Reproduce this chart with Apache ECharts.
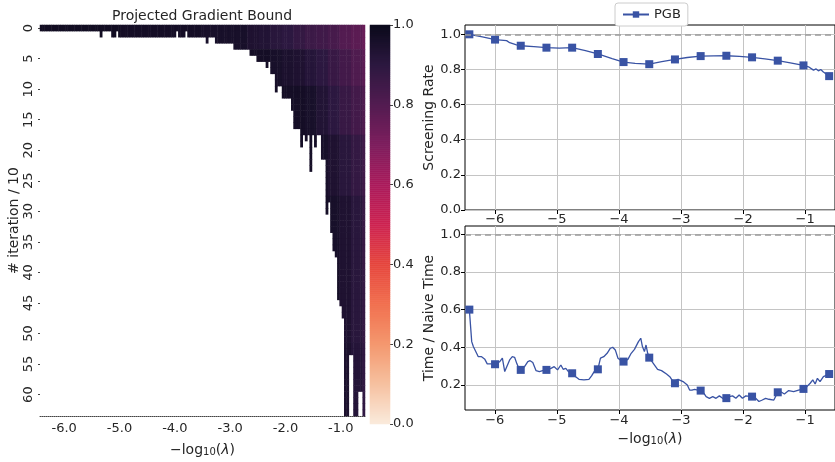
<!DOCTYPE html>
<html>
<head>
<meta charset="utf-8">
<script src="https://cdn.jsdelivr.net/npm/echarts@6/dist/echarts.min.js"></script>
<style>html,body{margin:0;padding:0;background:#fff}#c{width:835px;height:462px}</style>
</head>
<body>
<div id="c"></div>
<script>
// ---------- heatmap data ----------
// number of iteration rows (of 64) that are filled for each of the 141 lambda columns
const depth = [
 1,1,1,1,1,1,1,1,1,1, 1,1,1,1,1,1,1,1,1,1, 1,1,1,1,1,1,2,1,1,1,
 1,2,2,1,2,2,2,2,2,2, 2,2,2,2,2,2,2,2,2,2, 2,2,2,2,2,2,2,2,2,1,
 2,2,2,1,2,2,2,2,2,2, 2,2,3,2,2,2,3,3,3,3, 3,3,3,3,4,4,4,4,4,4,
 4,5,5,5,6,6,6,6,7,6, 8,8,11,10,10,12,12,12,12,14, 17,17,17,20,18,19,18,24,18,20,
 18,18,22,22,31,29,34,37,38,45, 46,48,64,64,54,54,64,64,60,60, 64
];
const nRows = 64;
const xTickCols = [10, 34, 58, 82, 106, 130];
const xTickLabels = ['-6.0', '-5.0', '-4.0', '-3.0', '-2.0', '-1.0'];
// first row of each row band
const rowBandStart = [0, 4, 10, 18, 28, 40, 52];
// cell values per band, one per group of 5 columns (29 groups)
const shadeBand0 = [0.98,0.98,0.98,0.98,0.98,0.98,0.98,0.97,0.97,0.97,0.97,0.97,0.97,0.97,0.96,0.96,0.96,0.96,0.94,0.93,0.91,0.90,0.88,0.86,0.85,0.83,0.80,0.78,0.75];
const shadeBand1 = [0.97,0.97,0.97,0.97,0.97,0.97,0.97,0.97,0.97,0.97,0.97,0.97,0.97,0.97,0.97,0.97,0.97,0.97,0.97,0.97,0.96,0.95,0.94,0.92,0.90,0.87,0.84,0.81,0.78];
const shadeBand2 = [0.97,0.97,0.97,0.97,0.97,0.97,0.97,0.97,0.97,0.97,0.97,0.97,0.97,0.97,0.97,0.97,0.97,0.97,0.97,0.97,0.97,0.97,0.97,0.96,0.93,0.90,0.87,0.84,0.81];
const shadeBand3 = [0.97,0.97,0.97,0.97,0.97,0.97,0.97,0.97,0.97,0.97,0.97,0.97,0.97,0.97,0.97,0.97,0.97,0.97,0.97,0.97,0.97,0.97,0.97,0.97,0.96,0.94,0.91,0.88,0.85];
const shadeBand4 = [0.97,0.97,0.97,0.97,0.97,0.97,0.97,0.97,0.97,0.97,0.97,0.97,0.97,0.97,0.97,0.97,0.97,0.97,0.97,0.97,0.97,0.97,0.97,0.97,0.97,0.96,0.94,0.91,0.87];
const shadeBand5 = [0.97,0.97,0.97,0.97,0.97,0.97,0.97,0.97,0.97,0.97,0.97,0.97,0.97,0.97,0.97,0.97,0.97,0.97,0.97,0.97,0.97,0.97,0.97,0.97,0.97,0.97,0.94,0.91,0.88];
const shadeBand6 = [0.97,0.97,0.97,0.97,0.97,0.97,0.97,0.97,0.97,0.97,0.97,0.97,0.97,0.97,0.97,0.97,0.97,0.97,0.97,0.97,0.97,0.97,0.97,0.97,0.97,0.97,0.95,0.92,0.89];
const rocketR = ['#faebdd','#f6c1a0','#f4986f','#f1704f','#e6463d','#cd2250','#aa1a5b','#7d1d5d','#531c51','#2c1840','#0b0a1b'];

// ---------- line data ----------
const markerX = [-6.41,-5.996,-5.582,-5.168,-4.754,-4.34,-3.926,-3.512,-3.098,-2.684,-2.27,-1.856,-1.442,-1.028,-0.614];
const srX = [-6.41,-6.2,-5.996,-5.81,-5.76,-5.65,-5.582,-5.37,-5.168,-4.96,-4.754,-4.54,-4.34,-4.11,-3.926,-3.74,-3.512,-3.31,-3.098,-2.9,-2.684,-2.47,-2.27,-2.06,-1.856,-1.65,-1.442,-1.24,-1.028,-0.947,-0.867,-0.824,-0.787,-0.75,-0.707,-0.614];
const srY = [1.000,0.985,0.970,0.964,0.952,0.940,0.935,0.930,0.924,0.921,0.924,0.907,0.888,0.862,0.842,0.834,0.830,0.845,0.857,0.868,0.876,0.877,0.878,0.874,0.869,0.860,0.850,0.838,0.823,0.815,0.796,0.803,0.792,0.800,0.785,0.762];
const ttX = [-6.41,-6.372,-6.346,-6.293,-6.266,-6.213,-6.16,-6.122,-6.053,-5.996,-5.92,-5.878,-5.84,-5.814,-5.761,-5.718,-5.681,-5.644,-5.601,-5.582,-5.521,-5.468,-5.431,-5.388,-5.335,-5.282,-5.229,-5.168,-5.096,-5.043,-4.989,-4.936,-4.899,-4.856,-4.814,-4.754,-4.697,-4.644,-4.564,-4.484,-4.441,-4.399,-4.34,-4.298,-4.245,-4.191,-4.138,-4.101,-4.059,-4.016,-3.979,-3.926,-3.856,-3.803,-3.75,-3.686,-3.649,-3.622,-3.59,-3.564,-3.537,-3.512,-3.447,-3.378,-3.314,-3.234,-3.181,-3.128,-3.098,-3.048,-2.968,-2.899,-2.862,-2.824,-2.782,-2.729,-2.684,-2.633,-2.596,-2.543,-2.489,-2.436,-2.383,-2.33,-2.27,-2.223,-2.17,-2.117,-2.064,-2.011,-1.957,-1.856,-1.798,-1.745,-1.691,-1.638,-1.585,-1.505,-1.442,-1.399,-1.335,-1.266,-1.186,-1.106,-1.028,-0.973,-0.92,-0.878,-0.84,-0.803,-0.761,-0.707,-0.614];
const ttY = [0.600,0.430,0.404,0.368,0.350,0.350,0.336,0.312,0.312,0.310,0.324,0.342,0.271,0.280,0.333,0.350,0.347,0.312,0.280,0.280,0.297,0.324,0.329,0.319,0.276,0.271,0.276,0.280,0.288,0.297,0.280,0.306,0.283,0.288,0.271,0.262,0.244,0.230,0.227,0.230,0.248,0.271,0.283,0.342,0.350,0.368,0.395,0.400,0.386,0.342,0.333,0.324,0.336,0.368,0.389,0.430,0.448,0.404,0.377,0.412,0.368,0.345,0.315,0.283,0.276,0.258,0.244,0.218,0.209,0.230,0.218,0.200,0.173,0.173,0.177,0.173,0.170,0.156,0.138,0.129,0.138,0.129,0.142,0.129,0.130,0.138,0.142,0.129,0.147,0.129,0.142,0.138,0.129,0.112,0.120,0.129,0.124,0.120,0.161,0.165,0.152,0.170,0.165,0.173,0.179,0.191,0.209,0.227,0.205,0.235,0.218,0.244,0.258];

// ---------- build ----------
const FONT = 'DejaVu Sans';
const TXT = '#262626';
const BLUE = '#3953a4';
const bands = [shadeBand0, shadeBand1, shadeBand2, shadeBand3, shadeBand4, shadeBand5, shadeBand6];
const xCats = depth.map((d, i) => String(i));
const yCats = Array.from({length: nRows}, (_, i) => String(i));
const heat = [];
depth.forEach((d, c) => {
  for (let r = 0; r < d; r++) {
    let b = 0;
    for (let k = 0; k < rowBandStart.length; k++) if (r >= rowBandStart[k]) b = k;
    heat.push([c, r, bands[b][Math.floor(c / 5)]]);
  }
});
const nBar = 200;
const barCats = Array.from({length: nBar}, (_, i) => String(i));
const barData = barCats.map((_, i) => [0, i, (i + 0.5) / nBar]);

function lineData(xs, ys) {
  return xs.map((x, i) => markerX.indexOf(x) >= 0 ? {value: [x, ys[i]]} : {value: [x, ys[i]], symbol: 'none'});
}
const minus = v => String(v).replace('-', '\u2212');
const xName = {
  name: '{m|\u2212log}{s|10}{m|(}{i|\u03bb}{m|)}',
  nameTextStyle: {rich: {
    m: {fontSize: 14, fontFamily: FONT, color: TXT, verticalAlign: 'bottom'},
    s: {fontSize: 10, fontFamily: FONT, color: TXT, verticalAlign: 'bottom'},
    i: {fontSize: 14, fontFamily: FONT, color: TXT, fontStyle: 'italic', verticalAlign: 'bottom'}
  }}
};
const gridLine = {show: true, lineStyle: {color: '#c4c4c4', width: 1}};
const oneLine = {
  silent: true, symbol: ['none', 'none'], label: {show: false},
  lineStyle: {color: '#9a9a9a', type: [6, 4], width: 1.5},
  data: [{yAxis: 1.0}]
};

const option = {
  animation: false,
  textStyle: {fontFamily: FONT},
  title: {text: 'Projected Gradient Bound', left: 202, top: 9, textAlign: 'center', padding: 0,
    textStyle: {fontSize: 14, fontWeight: 'normal', color: TXT, fontFamily: FONT}},
  legend: {
    data: ['PGB'], left: 615, top: 3, padding: [5, 7, 5, 7], itemWidth: 26, itemHeight: 8,
    borderColor: '#cccccc', borderWidth: 1, borderRadius: 3, backgroundColor: '#fff',
    textStyle: {fontSize: 13, color: TXT, fontFamily: FONT}
  },
  visualMap: {type: 'continuous', min: 0, max: 1, show: false, seriesIndex: [0, 1], inRange: {color: rocketR}},
  grid: [
    {left: 40, top: 25, width: 325, height: 400},
    {left: 370, top: 25, width: 20, height: 399},
    {left: 465, top: 25, width: 372, height: 185, show: true, borderColor: '#000', borderWidth: 1},
    {left: 465, top: 226, width: 372, height: 184, show: true, borderColor: '#000', borderWidth: 1, backgroundColor: '#fff'}
  ],
  xAxis: [
    {type: 'category', gridIndex: 0, data: xCats,
      axisLine: {show: true, lineStyle: {color: '#444', type: [1, 1], width: 1}},
      axisTick: {show: false},
      axisLabel: {interval: (i) => xTickCols.indexOf(i) >= 0, formatter: (v, i) => xTickLabels[xTickCols.indexOf(Number(v))],
        fontSize: 13, color: TXT, margin: 6, fontFamily: FONT},
      name: xName.name, nameLocation: 'middle', nameGap: 27, nameTextStyle: xName.nameTextStyle},
    {type: 'category', gridIndex: 1, data: ['c'], show: false},
    {type: 'value', gridIndex: 2, min: -6.48, max: -0.52,
      axisLine: {show: false}, splitLine: gridLine,
      axisTick: {show: true, length: 4, lineStyle: {color: '#000'}, customValues: [-6, -5, -4, -3, -2, -1]},
      axisLabel: {customValues: [-6, -5, -4, -3, -2, -1], formatter: minus, fontSize: 13, color: TXT, margin: 3, fontFamily: FONT}},
    {type: 'value', gridIndex: 3, min: -6.48, max: -0.52,
      axisLine: {show: false}, splitLine: gridLine,
      axisTick: {show: true, length: 4, lineStyle: {color: '#000'}, customValues: [-6, -5, -4, -3, -2, -1]},
      axisLabel: {customValues: [-6, -5, -4, -3, -2, -1], formatter: minus, fontSize: 13, color: TXT, margin: 4, fontFamily: FONT},
      name: xName.name, nameLocation: 'middle', nameGap: 22, nameTextStyle: xName.nameTextStyle}
  ],
  yAxis: [
    {type: 'category', gridIndex: 0, data: yCats, inverse: true,
      axisLine: {show: false},
      axisTick: {show: true, interval: 4, alignWithLabel: true, length: 2, lineStyle: {color: '#444'}},
      axisLabel: {interval: 4, rotate: 90, fontSize: 13, color: TXT, margin: 5, fontFamily: FONT},
      name: '# iteration / 10', nameLocation: 'middle', nameGap: 18,
      nameTextStyle: {fontSize: 14, color: TXT, fontFamily: FONT}},
    {type: 'category', gridIndex: 1, data: barCats, show: false},
    {type: 'value', gridIndex: 1, position: 'right', min: 0, max: 1, interval: 0.2,
      axisLine: {show: false}, splitLine: {show: false},
      axisTick: {show: true, length: 3, lineStyle: {color: '#444'}},
      axisLabel: {formatter: v => v.toFixed(1), fontSize: 13, color: TXT, margin: 3, fontFamily: FONT}},
    {type: 'value', gridIndex: 2, min: 0, max: 1.053,
      axisLine: {show: false}, splitLine: gridLine,
      axisTick: {show: true, length: 4, lineStyle: {color: '#000'}, customValues: [0, 0.2, 0.4, 0.6, 0.8, 1.0]},
      axisLabel: {customValues: [0, 0.2, 0.4, 0.6, 0.8, 1.0], formatter: v => v.toFixed(1), fontSize: 13, color: TXT, margin: 4, fontFamily: FONT},
      name: 'Screening Rate', nameLocation: 'middle', nameGap: 25,
      nameTextStyle: {fontSize: 14, color: TXT, fontFamily: FONT}},
    {type: 'value', gridIndex: 3, min: 0.067, max: 1.044,
      axisLine: {show: false}, splitLine: gridLine,
      axisTick: {show: true, length: 4, lineStyle: {color: '#000'}, customValues: [0.2, 0.4, 0.6, 0.8, 1.0]},
      axisLabel: {customValues: [0.2, 0.4, 0.6, 0.8, 1.0], formatter: v => v.toFixed(1), fontSize: 13, color: TXT, margin: 4, fontFamily: FONT},
      name: 'Time / Naive Time', nameLocation: 'middle', nameGap: 25,
      nameTextStyle: {fontSize: 14, color: TXT, fontFamily: FONT}}
  ],
  series: [
    {type: 'heatmap', xAxisIndex: 0, yAxisIndex: 0, data: heat, progressive: 0, itemStyle: {borderWidth: 0}},
    {type: 'heatmap', xAxisIndex: 1, yAxisIndex: 1, data: barData, progressive: 0, itemStyle: {borderWidth: 0}},
    {type: 'line', name: 'PGB', xAxisIndex: 2, yAxisIndex: 3, data: lineData(srX, srY),
      symbol: 'rect', symbolSize: 8, showSymbol: true, color: BLUE,
      lineStyle: {width: 1.3, color: BLUE}, itemStyle: {color: BLUE}, markLine: oneLine, z: 3},
    {type: 'line', name: 'PGB', xAxisIndex: 3, yAxisIndex: 4, data: lineData(ttX, ttY),
      symbol: 'rect', symbolSize: 8, showSymbol: true, color: BLUE,
      lineStyle: {width: 1.3, color: BLUE}, itemStyle: {color: BLUE}, markLine: oneLine, z: 3}
  ]
};
const chart = echarts.init(document.getElementById('c'), null, {renderer: 'canvas'});
chart.setOption(option);
</script>
</body>
</html>
